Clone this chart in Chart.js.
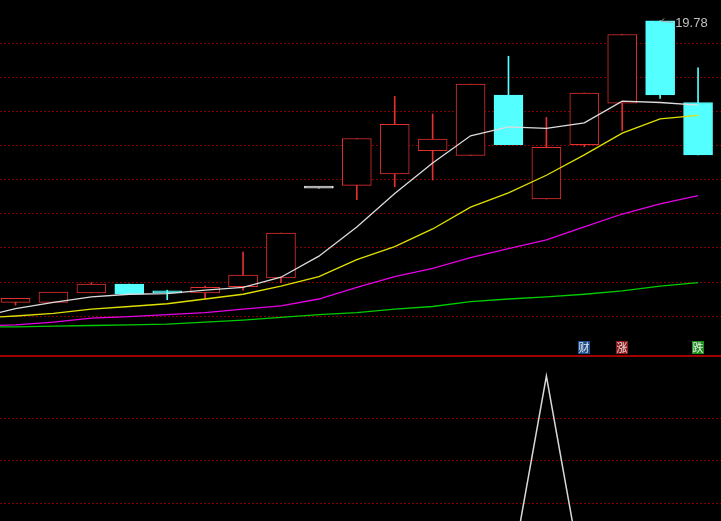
<!DOCTYPE html>
<html lang="zh">
<head>
<meta charset="UTF-8">
<meta name="viewport" content="width=device-width, initial-scale=1.0">
<title>K线</title>
<style>
    html, body { margin: 0; padding: 0; background: #000; }
    #wrap { position: relative; width: 721px; height: 521px; overflow: hidden; background: #000; }
    #priceBox { position: absolute; left: 0; top: 0; width: 721px; height: 357px; }
    #indBox { position: absolute; left: 0; top: 357px; width: 721px; height: 164px; }
</style>
</head>
<body>

<div id="wrap">
    <div id="priceBox"><canvas id="priceChart" width="721" height="357"></canvas></div>
    <div id="indBox"><canvas id="indChart" width="721" height="164"></canvas></div>
</div>

<script src="https://cdn.jsdelivr.net/npm/chart.js@4.4.1/dist/chart.umd.min.js"></script>
<script>
// day 0 is the session just off the left edge (only the averages reach into view)
var days   = [0, 1, 2, 3, 4, 5, 6, 7, 8, 9, 10, 11, 12, 13, 14, 15, 16, 17, 18, 19];
var openP  = [null, 15.64, 15.64, 15.78, 15.91, 15.79, 15.78, 15.87, 16.00, 17.32, 17.36, 17.53, 17.87, 17.80, 18.69, 17.16, 17.96, 18.57, 19.78, 18.58];
var highP  = [null, 15.70, 15.79, 15.93, 15.91, 15.82, 15.88, 16.38, 16.66, 17.32, 18.05, 18.67, 18.41, 18.85, 19.26, 18.36, 18.72, 19.58, 19.78, 19.09];
var lowP   = [null, 15.60, 15.64, 15.78, 15.76, 15.68, 15.69, 15.82, 15.93, 17.32, 17.15, 17.34, 17.44, 17.80, 17.96, 17.16, 17.93, 18.17, 18.64, 17.81];
var closeP = [null, 15.70, 15.79, 15.91, 15.76, 15.78, 15.86, 16.04, 16.66, 17.32, 18.05, 18.26, 18.04, 18.85, 17.96, 17.92, 18.72, 19.58, 18.69, 17.81];

var ma5  = [15.41, 15.55, 15.64, 15.72, 15.76, 15.77, 15.82, 15.86, 16.01, 16.32, 16.75, 17.24, 17.69, 18.09, 18.22, 18.20, 18.28, 18.60, 18.58, 18.54];
var ma10 = [15.41, 15.44, 15.48, 15.54, 15.58, 15.62, 15.69, 15.76, 15.88, 16.02, 16.27, 16.46, 16.72, 17.04, 17.25, 17.51, 17.81, 18.13, 18.34, 18.39];
var ma20 = [15.29, 15.31, 15.35, 15.41, 15.43, 15.46, 15.49, 15.54, 15.59, 15.69, 15.86, 16.02, 16.14, 16.30, 16.43, 16.56, 16.75, 16.94, 17.09, 17.21];
var ma60 = [15.28, 15.28, 15.29, 15.30, 15.31, 15.32, 15.35, 15.38, 15.42, 15.46, 15.49, 15.54, 15.58, 15.65, 15.69, 15.72, 15.76, 15.81, 15.88, 15.93];

var signal = [0, 0, 0, 0, 0, 0, 0, 0, 0, 0, 0, 0, 0, 0, 0, 100, 0, 0, 0, 0];

var priceGrid  = [15.44, 15.94, 16.44, 16.94, 17.44, 17.94, 18.44, 18.94, 19.44];
var signalGrid = [40, 60, 80];

var markDays   = [16, 17, 19];
var markText   = ['财', '涨', '跌'];
var markColors = ['#1d4f8c', '#8e1b1b', '#1a8f1a'];

var UP = '#e03030', DOWN = '#54ffff', FLAT = '#e0e0e0';
var GRID = '#800000';

var bodies = [], wicks = [], bodyFill = [], bodyLine = [];
for (var i = 0; i < days.length; i++) {
    if (openP[i] === null) continue;
    var c = closeP[i] > openP[i] ? UP : (closeP[i] < openP[i] ? DOWN : FLAT);
    bodies.push({ x: days[i], y: [openP[i], closeP[i]] });
    wicks.push({ x: days[i], y: [lowP[i], highP[i]] });
    bodyLine.push(c);
    bodyFill.push(c === UP ? '#000' : c);
}

function pts(arr) {
    return days.map(function (d, k) { return { x: d, y: arr[k] }; });
}

function maLine(arr, color) {
    return {
        type: 'line', data: pts(arr), borderColor: color, borderWidth: 1.3,
        pointRadius: 0, tension: 0, order: 1
    };
}

function xAxis() {
    return { type: 'linear', min: 0.59, max: 19.605, offset: false, display: false };
}

function gridAxis(min, max, values) {
    return {
        min: min, max: max,
        ticks: { display: false },
        grid: { color: GRID, lineWidth: 1, drawTicks: false },
        border: { display: false, dash: [2, 2] },
        afterBuildTicks: function (s) {
            s.ticks = values.map(function (v) { return { value: v }; });
        }
    };
}

var priceNotes = {
    id: 'priceNotes',
    afterDraw: function (chart) {
        var ctx = chart.ctx, xs = chart.scales.x, ys = chart.scales.y;
        ctx.save();

        // panel separator
        ctx.fillStyle = '#a00000';
        ctx.fillRect(0, chart.height - 2, chart.width, 2);

        // highest price marker
        var hiIdx = 1;
        for (var k = 1; k < highP.length; k++) {
            if (highP[k] !== null && highP[k] > highP[hiIdx]) hiIdx = k;
        }
        var hx = xs.getPixelForValue(days[hiIdx]), hy = ys.getPixelForValue(highP[hiIdx]);
        ctx.strokeStyle = '#b0b0b0';
        ctx.lineWidth = 1;
        ctx.beginPath();
        ctx.moveTo(hx + 1, hy + 0.5);
        ctx.lineTo(hx + 4, hy - 2.5);
        ctx.moveTo(hx + 1, hy + 0.5);
        ctx.lineTo(hx + 13, hy + 1.5);
        ctx.stroke();
        ctx.fillStyle = '#c0c0c0';
        ctx.font = '13px "Liberation Sans", Arial, sans-serif';
        ctx.textAlign = 'left';
        ctx.textBaseline = 'middle';
        ctx.fillText(highP[hiIdx].toFixed(2), hx + 15, hy + 3);

        // signal tags
        ctx.font = '11px "Noto Sans CJK SC", sans-serif';
        ctx.textAlign = 'center';
        for (var m = 0; m < markDays.length; m++) {
            var mx = Math.round(xs.getPixelForValue(markDays[m]));
            ctx.fillStyle = markColors[m];
            ctx.fillRect(mx - 6, chart.height - 16, 12, 13);
            ctx.fillStyle = '#e8e8e8';
            ctx.fillText(markText[m], mx, chart.height - 9);
        }
        ctx.restore();
    }
};

new Chart(document.getElementById('priceChart').getContext('2d'), {
    type: 'bar',
    data: {
        datasets: [
            {
                data: wicks, backgroundColor: bodyLine, borderWidth: 0,
                barThickness: 1, grouped: false, order: 3
            },
            {
                data: bodies, backgroundColor: bodyFill, borderColor: bodyLine,
                borderWidth: 1, borderSkipped: false, barThickness: 29,
                minBarLength: 2, grouped: false, order: 2
            },
            maLine(ma5, '#dcdcdc'),
            maLine(ma10, '#e0e000'),
            maLine(ma20, '#e600e6'),
            maLine(ma60, '#00cc00')
        ]
    },
    options: {
        responsive: false,
        animation: false,
        events: [],
        layout: { padding: { top: 10, bottom: 7, left: 0, right: 0 } },
        plugins: { legend: { display: false }, tooltip: { enabled: false } },
        scales: {
            x: xAxis(),
            y: gridAxis(14.94, 19.94, priceGrid)
        }
    },
    plugins: [priceNotes]
});

new Chart(document.getElementById('indChart').getContext('2d'), {
    type: 'line',
    data: {
        datasets: [{
            data: pts(signal), borderColor: '#d8d8d8', borderWidth: 1.5,
            pointRadius: 0, tension: 0
        }]
    },
    options: {
        responsive: false,
        animation: false,
        events: [],
        layout: { padding: 0 },
        plugins: { legend: { display: false }, tooltip: { enabled: false } },
        scales: {
            x: xAxis(),
            y: gridAxis(31.76, 108.94, signalGrid)
        }
    }
});
</script>
</body>
</html>
